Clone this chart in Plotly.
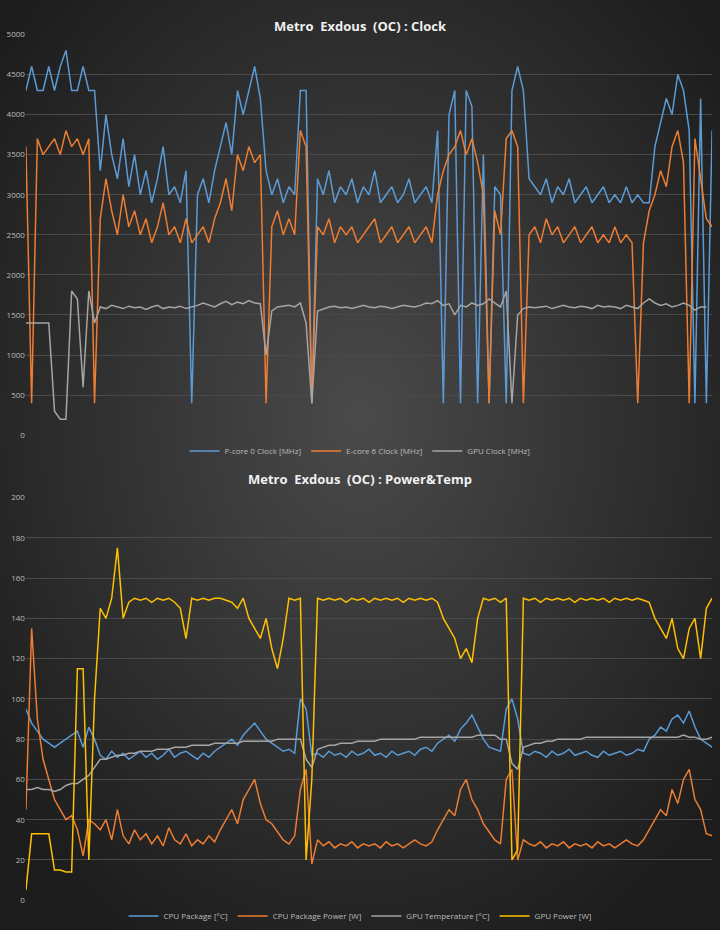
import base64
import plotly.graph_objects as go

pcore = [4300,4600,4300,4300,4600,4300,4600,4800,4300,4300,4600,4300,4300,
 3300,4000,3500,3200,3700,3100,3500,3000,3300,2900,3200,3600,3000,3100,2900,3300,
 400,3000,3200,2900,3300,
 3600,3900,3500,4300,4000,4300,4600,4200,
 3300,3000,3200,2900,3100,3000,4300,4300,400,
 3200,3000,3300,2900,3100,3000,3200,2900,3100,3000,3300,2900,3000,3100,2900,3000,3200,2900,3000,3100,2900,
 3800,400,4000,4300,400,4300,4100,400,3500,400,3100,3000,400,4300,4600,4300,3200,
 3100,3000,3200,2900,3100,3000,3200,2900,3000,3100,2900,3000,3100,2900,3000,2900,3100,2900,3000,2900,2900,
 3600,3900,4200,4000,4500,4300,3800,400,4200,400,3800,3300]
ecore = [3600,400,3700,3500,3600,3700,3500,3800,3600,3700,3500,3700,400,
 2700,3200,2800,2500,3000,2600,2800,2500,2700,2400,2600,2900,2500,2600,2400,2700,
 2400,2500,2600,2400,2700,
 2900,3200,2800,3500,3300,3600,3400,3500,
 400,2600,2800,2500,2700,2500,3800,3600,400,
 2600,2500,2700,2400,2600,2500,2600,2400,2500,2600,2700,2400,2500,2600,2400,2500,2600,2400,2500,2600,2400,
 3000,3300,3500,3600,3800,3500,3700,3400,3000,400,2800,2500,3700,3800,3600,400,
 2500,2600,2400,2700,2500,2600,2400,2500,2600,2400,2500,2600,2400,2500,2400,2600,2400,2500,2400,400,2400,
 2800,3000,3300,3100,3600,3800,3400,400,3700,3200,2700,2600]
gpuclk = [1400,1400,1400,1400,1400,300,200,200,1800,1700,600,1800,1400,
 1600,1580,1620,1600,1580,1610,1590,1600,1570,1600,1620,1580,1600,1590,1610,1580,1600,1620,1650,1620,1600,1640,1670,1630,1660,1640,1680,1650,1640,
 1000,1550,1600,1610,1620,1600,1650,1400,400,1550,
 1580,1600,1610,1590,1600,1580,1600,1620,1600,1590,1610,1600,1580,1600,1620,1610,1600,1620,1650,1640,
 1680,1620,1640,1500,1620,1600,1650,1620,1640,1700,1650,1600,1800,400,1500,
 1580,1600,1590,1600,1610,1580,1600,1620,1600,1590,1610,1600,1580,1620,1600,1610,1600,1580,1620,1600,1580,
 1650,1700,1650,1620,1640,1600,1620,1650,1620,1560,1600,1600]

cpu_temp = [95,88,84,80,78,76,78,80,82,84,76,86,80,
 72,70,74,71,73,70,72,74,71,73,70,72,75,71,73,74,72,70,73,71,74,
 76,78,80,77,82,85,88,84,80,78,76,74,75,73,
 100,95,72,
 73,71,74,72,73,71,74,72,73,75,72,73,71,74,72,73,74,72,75,76,74,
 78,80,82,79,85,88,92,86,80,76,75,74,95,
 100,90,73,
 72,74,73,71,74,72,73,75,72,73,74,72,71,74,72,73,74,72,73,75,74,
 80,82,86,84,90,92,88,94,86,80,78,76]
cpu_pow = [45,135,90,70,60,50,45,40,42,35,22,40,38,
 35,40,30,45,32,28,35,30,33,28,32,27,36,30,28,33,27,30,28,32,29,
 35,40,45,38,50,55,60,48,40,38,34,30,28,32,
 55,65,18,
 30,27,29,26,28,27,29,26,28,27,28,26,29,27,28,26,28,30,28,27,29,
 35,40,45,42,55,60,50,45,38,34,30,28,60,
 65,20,30,
 28,27,29,26,28,27,29,26,28,27,28,26,29,27,28,26,28,30,28,27,30,
 35,40,45,42,55,48,60,65,50,45,33,32]
gpu_temp = [55,55,56,55,55,54,55,57,58,58,60,62,66,
 70,70,71,72,72,73,73,74,74,74,75,75,75,76,76,76,77,77,77,77,78,
 78,78,78,78,79,79,79,79,79,79,80,80,80,80,
 80,70,66,
 75,76,77,77,78,78,78,79,79,79,79,80,80,80,80,80,80,80,81,81,81,
 81,81,81,81,81,81,81,82,82,82,82,80,80,
 68,65,76,
 77,78,78,79,79,80,80,80,80,80,81,81,81,81,81,81,81,81,81,81,81,
 81,81,81,81,81,81,82,81,81,80,80,81]
gpu_pow = [5,33,33,33,33,15,15,14,14,115,115,20,100,
 145,140,150,175,140,148,150,149,150,148,150,149,150,148,145,130,150,149,150,149,150,
 150,149,148,145,150,140,135,130,140,125,115,130,150,149,
 150,20,60,
 150,149,150,149,150,148,150,149,150,148,150,149,150,149,150,148,150,149,150,149,150,
 148,140,135,130,120,125,118,140,150,149,150,148,150,
 20,25,150,
 149,150,148,150,149,150,149,150,148,150,149,150,149,150,148,150,149,150,149,150,149,
 148,140,135,130,140,125,120,135,140,120,145,150]

BLUE, ORANGE, GRAY, YELLOW = "#5b9bd5", "#ed7d31", "#a5a5a5", "#ffc000"

svg = ('<svg xmlns="http://www.w3.org/2000/svg" width="720" height="930" viewBox="0 0 720 930">'
       '<defs><radialGradient id="g" cx="50%" cy="45%" r="65%">'
       '<stop offset="0" stop-color="#4a4a4a"/><stop offset="1" stop-color="#1c1c1c"/>'
       '</radialGradient></defs><rect width="720" height="930" fill="url(#g)"/></svg>')
bg = "data:image/svg+xml;base64," + base64.b64encode(svg.encode()).decode()

fig = go.Figure()
def add(y, name, color, ax, leg):
    fig.add_trace(go.Scatter(x=list(range(len(y))), y=y, name=name, mode="lines",
        line=dict(color=color, width=1.5), xaxis="x" + ax, yaxis="y" + ax, legend=leg))
add(pcore, "P-core 0 Clock [MHz]", BLUE, "", "legend")
add(ecore, "E-core 6 Clock [MHz]", ORANGE, "", "legend")
add(gpuclk, "GPU Clock [MHz]", GRAY, "", "legend")
add(cpu_temp, "CPU Package [°C]", BLUE, "2", "legend2")
add(cpu_pow, "CPU Package Power [W]", ORANGE, "2", "legend2")
add(gpu_temp, "GPU Temperature [°C]", GRAY, "2", "legend2")
add(gpu_pow, "GPU Power [W]", YELLOW, "2", "legend2")

ax = dict(showgrid=False, zeroline=False, showticklabels=False, range=[0, 120], domain=[0.036, 0.989])
yax = dict(gridcolor="#4a4a4a", zeroline=False, tickfont=dict(size=8, color="#bbbbbb"), ticks="",
           automargin=False)
leg = dict(orientation="h", xanchor="center", x=0.5, yanchor="middle",
           font=dict(size=8, color="#bbbbbb"), bgcolor="rgba(0,0,0,0)")
fig.update_layout(
    width=720, height=930, margin=dict(l=0, r=0, t=0, b=0, autoexpand=False),
    paper_bgcolor="#2a2a2a", plot_bgcolor="rgba(0,0,0,0)",
    font=dict(family="Open Sans"),
    images=[dict(source=bg, xref="paper", yref="paper", x=0, y=1, sizex=1, sizey=1,
                 sizing="stretch", layer="below", xanchor="left", yanchor="top")],
    xaxis=dict(ax, anchor="y"), xaxis2=dict(ax, anchor="y2"),
    yaxis=dict(yax, range=[0, 5000], dtick=500, domain=[0.532, 0.963], anchor="x"),
    yaxis2=dict(yax, range=[0, 200], dtick=20, domain=[0.032, 0.465], anchor="x2"),
    legend=dict(leg, y=1 - 451/930),
    legend2=dict(leg, y=1 - 916/930),
    annotations=[
        dict(text="<b>Metro  Exdous  (OC) : Clock</b>", x=0.5, y=1 - 15/930, xref="paper", yref="paper",
             showarrow=False, font=dict(size=13, color="#f0f0f0")),
        dict(text="<b>Metro  Exdous  (OC) : Power&Temp</b>", x=0.5, y=1 - 479/930, xref="paper", yref="paper",
             showarrow=False, font=dict(size=13, color="#f0f0f0")),
    ],
    showlegend=True,
)
fig.write_html("out.html", config={"displayModeBar": False},
               post_script="document.body.style.margin='0';document.body.style.overflow='hidden';")
